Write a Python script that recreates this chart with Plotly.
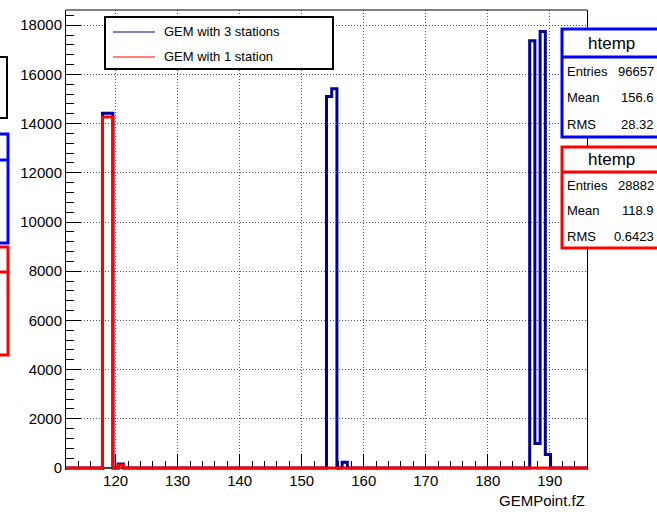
import plotly.graph_objects as go

# ---- canvas / frame geometry (pixels) ----
W, H = 657, 512
ML, MR, MT, MB = 66, 70, 10, 42

# ---- histogram binning (ROOT htemp style: 100 equal bins) ----
x_lo, x_hi, n_bins = 112.0, 196.0, 100
y_lo, y_hi = -80, 18618

# non-empty bins (bin index -> entries)
bins_3st = [7, 8, 10, 50, 51, 53, 89, 90, 91, 92]
counts_3st = [14420, 14420, 160, 15100, 15420, 230, 17370, 1000, 17740, 550]
bins_1st = [7, 8, 10]
counts_1st = [14270, 14270, 120]

series_names = ["GEM with 3 stations", "GEM with 1 station"]

stat_labels = ["Entries", "Mean", "RMS"]
stats_3st = ["96657", "156.6", "28.32"]
stats_1st = ["28882", "118.9", "0.6423"]

x_ticks = [120, 130, 140, 150, 160, 170, 180, 190]
y_ticks = [0, 2000, 4000, 6000, 8000, 10000, 12000, 14000, 16000, 18000]
x_title = "GEMPoint.fZ"

BLUE = "#000099"
RED = "#ff0000"
FONT = "Liberation Sans"

PW = W - ML - MR
PH = H - MT - MB


def px(x):
    return (x - ML) / PW


def py(y):
    return (H - MB - y) / PH


def step_xy(bins, counts):
    width = (x_hi - x_lo) / n_bins
    full = [0.0] * n_bins
    for b, c in zip(bins, counts):
        full[b] = c
    xs = [x_lo + k * width for k in range(n_bins + 1)]
    ys = full + [full[-1]]
    return xs, ys


fig = go.Figure()
for bins, counts, color in [(bins_3st, counts_3st, BLUE), (bins_1st, counts_1st, RED)]:
    xs, ys = step_xy(bins, counts)
    fig.add_trace(go.Scatter(x=xs, y=ys, mode="lines", line=dict(color=color, width=3, shape="hv"),
                             showlegend=False, hoverinfo="skip"))

shapes = []
annotations = []

# bottom axis line (sits under the histogram outlines)
shapes.append(dict(type="line", xref="x", yref="y", x0=x_lo, x1=x_hi, y0=0, y1=0,
                   line=dict(color="black", width=1.5), layer="below"))
# top frame edge
shapes.append(dict(type="line", xref="paper", yref="paper", x0=0, x1=1, y0=1, y1=1,
                   line=dict(color="black", width=1)))


def rect(x0, y0, x1, y1, color, width, fill="white"):
    shapes.append(dict(type="rect", xref="paper", yref="paper", x0=px(x0), x1=px(x1),
                       y0=py(y1), y1=py(y0), line=dict(color=color, width=width), fillcolor=fill))


def hline(x0, x1, y, color, width):
    shapes.append(dict(type="line", xref="paper", yref="paper", x0=px(x0), x1=px(x1),
                       y0=py(y), y1=py(y), line=dict(color=color, width=width)))


def text(x, y, s, size, anchor="left"):
    annotations.append(dict(xref="paper", yref="paper", x=px(x), y=py(y), text=s, showarrow=False,
                            xanchor=anchor, yanchor="middle",
                            font=dict(family=FONT, size=size, color="black")))


# legend
rect(105, 17, 333, 69, "black", 2)
hline(113, 155, 32, BLUE, 1)
hline(113, 155, 57, RED, 1)
text(162, 32, series_names[0], 13)
text(162, 57, series_names[1], 13)

# stat boxes on the right
for top, sep, bot, rows, color, vals in [
    (29, 57, 137, [71, 97, 124], "#0000ff", stats_3st),
    (147, 172, 248, [185, 210, 236], RED, stats_1st),
]:
    rect(562, top, 662, bot, color, 3)
    hline(562, 662, sep, color, 3)
    text(611, (top + sep) / 2, "htemp", 17, "center")
    for yy, lab, val in zip(rows, stat_labels, vals):
        text(565, yy, lab, 13)
        text(656, yy, val, 13, "right")

# partially visible boxes at the left edge
rect(-20, 57, 7, 118, "black", 2)
rect(-20, 134, 8, 243, "#0000ff", 3)
hline(-20, 8, 160, "#0000ff", 3)
rect(-20, 247, 8, 355, RED, 3)
hline(-20, 8, 272, RED, 3)

# x axis title
text(587, 500, x_title, 15, "right")

axis_font = dict(family=FONT, size=15, color="black")
grid = dict(showgrid=True, gridcolor="#555", griddash="1px,2px", gridwidth=1)
fig.update_layout(
    width=W, height=H,
    margin=dict(l=ML, r=MR, t=MT, b=MB, pad=0),
    paper_bgcolor="white", plot_bgcolor="white",
    shapes=shapes, annotations=annotations,
    xaxis=dict(range=[x_lo, x_hi], tickmode="array", tickvals=x_ticks, ticks="inside",
               ticklen=16, tickcolor="black", tickwidth=1, tickfont=axis_font,
               showline=False, zeroline=False, layer="below traces", **grid,
               minor=dict(dtick=2, ticks="inside", ticklen=9, tickcolor="black", showgrid=False)),
    yaxis=dict(range=[y_lo, y_hi], tickmode="array", tickvals=y_ticks,
               ticktext=[str(v) for v in y_ticks], ticks="inside",
               ticklen=15, tickcolor="black", tickwidth=1, tickfont=axis_font,
               showline=True, mirror=True, linecolor="black", linewidth=1, zeroline=False,
               layer="below traces", **grid,
               minor=dict(dtick=400, ticks="inside", ticklen=8, tickcolor="black", showgrid=False)),
)

fig.write_html("out.html")
